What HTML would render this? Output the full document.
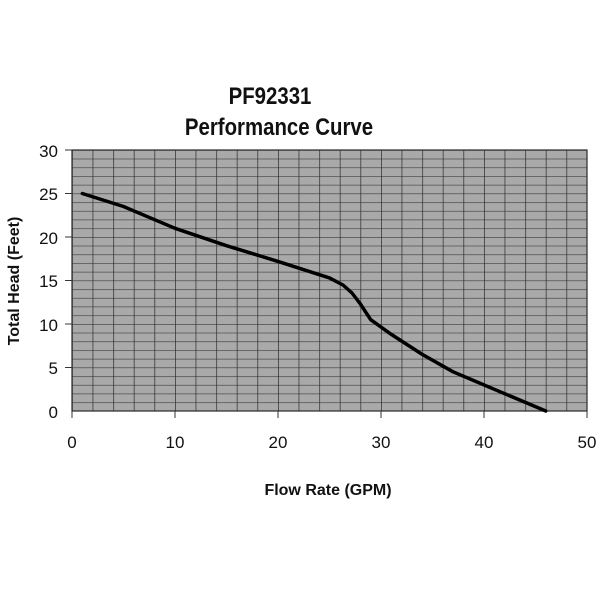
<!DOCTYPE html>
<html><head><style>
html,body{margin:0;padding:0;background:#fff;}
</style></head><body>
<svg width="600" height="600" xmlns="http://www.w3.org/2000/svg" style="display:block">
<defs>
<pattern id="g" x="72" y="150" width="20.6" height="8.7" patternUnits="userSpaceOnUse">
<rect width="20.6" height="8.7" fill="#a9a9a9"/>
<line x1="0" y1="0" x2="20.6" y2="0" stroke="#3a3a3a" stroke-width="1.2"/>
<line x1="0" y1="0" x2="0" y2="8.7" stroke="#2a2a2a" stroke-width="1.4"/>
</pattern>
</defs>
<g font-family="Liberation Sans, sans-serif" font-weight="bold" font-size="24" fill="#111" text-anchor="middle">
<text x="270" y="104" transform="translate(270 0) scale(0.85 1) translate(-270 0)">PF92331</text>
<text x="279" y="135" transform="translate(279 0) scale(0.85 1) translate(-279 0)">Performance Curve</text>
</g>
<rect x="72" y="150" width="515" height="261" fill="url(#g)"/>
<rect x="72" y="150" width="515" height="261" fill="none" stroke="#2a2a2a" stroke-width="1.2"/>
<g stroke="#333" stroke-width="1">
<line x1="72" y1="411" x2="72" y2="418"/><line x1="175" y1="411" x2="175" y2="418"/><line x1="278" y1="411" x2="278" y2="418"/><line x1="381" y1="411" x2="381" y2="418"/><line x1="484" y1="411" x2="484" y2="418"/><line x1="587" y1="411" x2="587" y2="418"/>
<line x1="65" y1="150" x2="72" y2="150"/><line x1="65" y1="193.5" x2="72" y2="193.5"/><line x1="65" y1="237" x2="72" y2="237"/><line x1="65" y1="280.5" x2="72" y2="280.5"/><line x1="65" y1="324" x2="72" y2="324"/><line x1="65" y1="367.5" x2="72" y2="367.5"/>
</g>
<g font-family="Liberation Sans, sans-serif" font-size="17" fill="#111" text-anchor="end">
<text x="58" y="157">30</text><text x="58" y="200">25</text><text x="58" y="244">20</text><text x="58" y="287">15</text><text x="58" y="331">10</text><text x="58" y="374">5</text><text x="58" y="418">0</text>
</g>
<g font-family="Liberation Sans, sans-serif" font-size="17" fill="#111" text-anchor="middle">
<text x="72" y="448">0</text><text x="175" y="448">10</text><text x="278" y="448">20</text><text x="381" y="448">30</text><text x="484" y="448">40</text><text x="587" y="448">50</text>
</g>
<text x="328" y="495" font-family="Liberation Sans, sans-serif" font-weight="bold" font-size="16" fill="#111" text-anchor="middle">Flow Rate (GPM)</text>
<text transform="translate(19 281) rotate(-90)" font-family="Liberation Sans, sans-serif" font-weight="bold" font-size="16" fill="#111" text-anchor="middle">Total Head (Feet)</text>
<polyline fill="none" stroke="#000" stroke-width="3.5" stroke-linejoin="round" stroke-linecap="round"
points="82.3,193.5 123.5,206.5 175,228.3 226.5,245.7 278,261.4 329.5,277.9 343,285 352,293 360.4,304 370.7,319.7 391.3,334.4 422.2,354.4 453.1,371.8 494.3,389.3 545.8,411"/>
</svg>
</body></html>
